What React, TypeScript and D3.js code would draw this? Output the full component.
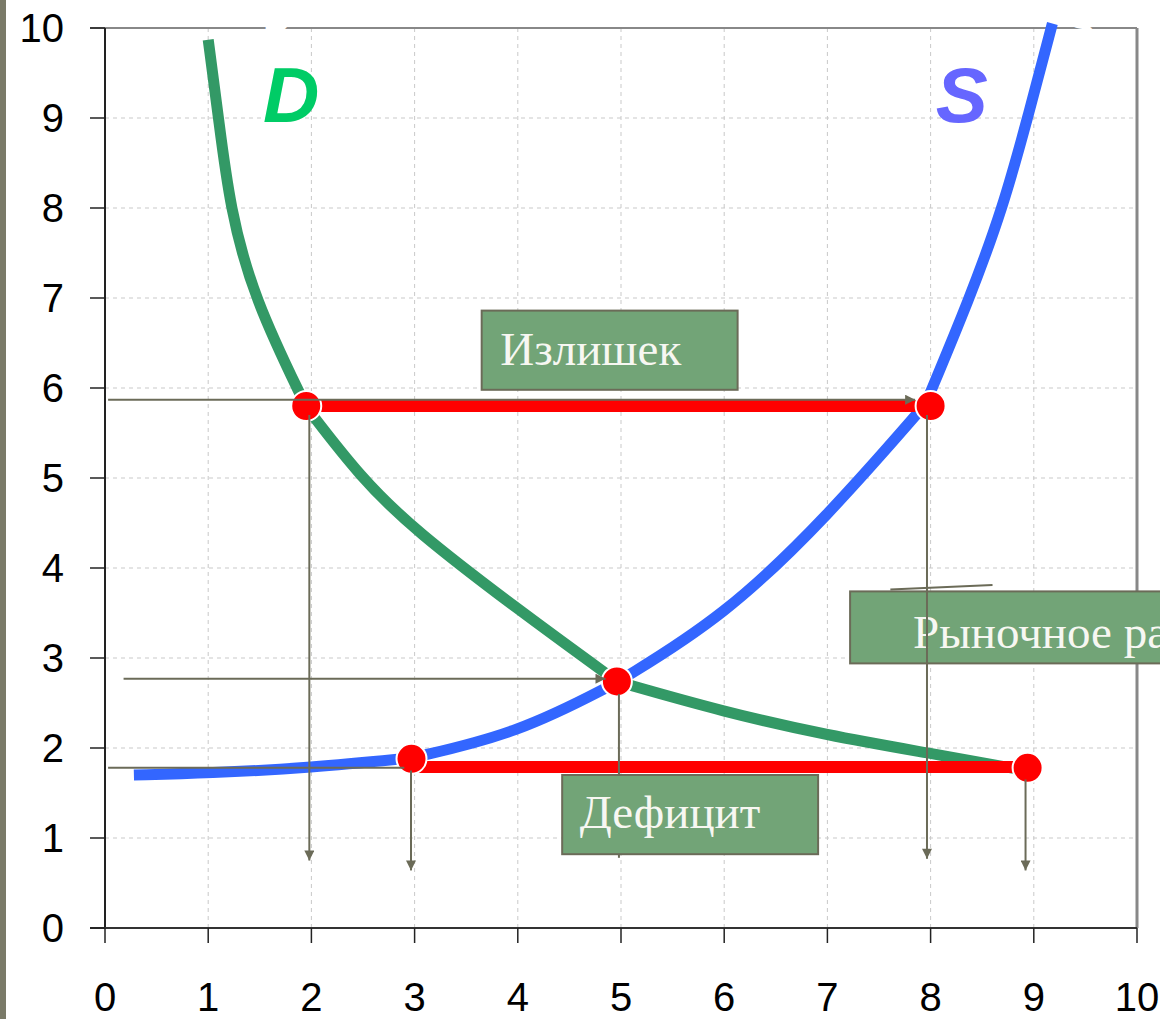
import React from "react";
import * as d3 from "d3";

// axis ticks (both axes 0..10)
const TICKS = [0, 1, 2, 3, 4, 5, 6, 7, 8, 9, 10];

// demand curve D (quantity, price)
const demandQ = [1.0, 1.1, 1.21, 1.44, 1.95, 2.48, 3.0, 4.0, 4.96, 6.0, 7.0, 8.0, 8.82];
const demandP = [9.87, 9.0, 8.0, 7.0, 5.79, 5.0, 4.42, 3.54, 2.74, 2.4, 2.14, 1.94, 1.77];
// points where the drawn curve bends (hidden under the red dots)
const demandKnots = [1.95, 4.96];

// supply curve S
const supplyQ = [0.28, 1, 2, 2.97, 4, 4.96, 6.0, 7.0, 7.95, 8.38, 8.7, 8.94, 9.18];
const supplyP = [1.7, 1.72, 1.78, 1.89, 2.16, 2.73, 3.46, 4.57, 5.82, 7.0, 8.0, 9.0, 10.05];
const supplyKnots = [2.97, 4.96, 7.95];

// red gap segments (surplus, deficit)
const gapFromQ = [1.95, 2.97];
const gapToQ = [8.0, 8.94];
const gapP = [5.8, 1.79];

// red points
const dotQ = [1.95, 8.0, 4.96, 2.97, 8.94];
const dotP = [5.8, 5.8, 2.74, 1.88, 1.78];

// grey guide lines: from (q1,p1) to (q2,p2), arrow = arrowhead at the end
const guides = [
  { q1: 0.03, p1: 5.87, q2: 7.85, p2: 5.87, arrow: true },
  { q1: 1.98, p1: 5.7, q2: 1.98, p2: 0.75, arrow: true },
  { q1: 2.965, p1: 1.75, q2: 2.965, p2: 0.64, arrow: true },
  { q1: 0.18, p1: 2.77, q2: 4.85, p2: 2.77, arrow: true },
  { q1: 4.98, p1: 2.6, q2: 4.98, p2: 0.78, arrow: false },
  { q1: 0.03, p1: 1.78, q2: 2.9, p2: 1.78, arrow: false },
  { q1: 7.965, p1: 5.7, q2: 7.965, p2: 0.77, arrow: true },
  { q1: 8.92, p1: 1.65, q2: 8.92, p2: 0.64, arrow: true },
  { q1: 7.61, p1: 3.76, q2: 8.6, p2: 3.81, arrow: false },
];

// text boxes
const boxTexts = ["Излишек", "Дефицит", "Рыночное равновесие"];
const boxQ1 = [3.65, 4.43, 7.22];
const boxQ2 = [6.13, 6.91, 10.6];
const boxPTop = [6.86, 1.7, 3.74];
const boxPBottom = [5.98, 0.82, 2.94];
const boxTextQ = [3.83, 4.6, 7.83];
const boxTextP = [6.26, 1.11, 3.11];

const W = 1160;
const H = 1019;

type Pt = [number, number];

// cut a curve into pieces at its knot points
function splitAt(qs: number[], ps: number[], knots: number[]): Pt[][] {
  const out: Pt[][] = [];
  let cur: Pt[] = [];
  qs.forEach((q, i) => {
    cur.push([q, ps[i]]);
    if (knots.includes(q)) {
      out.push(cur);
      cur = [[q, ps[i]]];
    }
  });
  if (cur.length > 1) out.push(cur);
  return out;
}

export default function App() {
  const x = d3.scaleLinear().domain([0, 10]).range([105, 1137]);
  const y = d3.scaleLinear().domain([0, 10]).range([928, 28]);

  const line = d3
    .line<Pt>()
    .x((d) => x(d[0]))
    .y((d) => y(d[1]))
    .curve(d3.curveBasis);

  const curvePath = (qs: number[], ps: number[], knots: number[]) =>
    splitAt(qs, ps, knots)
      .map((seg) => line(seg) ?? "")
      .join("");

  const guideColor = "#6b6b58";
  const boxFill = "#72a477";

  const renderBox = (i: number) => (
    <g key={"box" + i}>
      <rect
        x={x(boxQ1[i])}
        y={y(boxPTop[i])}
        width={x(boxQ2[i]) - x(boxQ1[i])}
        height={y(boxPBottom[i]) - y(boxPTop[i])}
        fill={boxFill}
        stroke={guideColor}
        strokeWidth={2}
      />
      <text
        x={x(boxTextQ[i])}
        y={y(boxTextP[i])}
        fill="#f7f7f2"
        fontFamily="'Liberation Serif', 'DejaVu Serif', serif"
        fontSize={47}
      >
        {boxTexts[i]}
      </text>
    </g>
  );

  return (
    <svg
      width={W}
      height={H}
      style={{ position: "absolute", left: 0, top: 0, background: "#fff" }}
    >
      <defs>
        <marker
          id="arr"
          viewBox="0 0 10 10"
          refX={10}
          refY={5}
          markerWidth={12}
          markerHeight={10}
          markerUnits="userSpaceOnUse"
          orient="auto"
        >
          <path d="M0,0 L10,5 L0,10 z" fill={guideColor} />
        </marker>
      </defs>

      {/* left page strip */}
      <rect x={0} y={0} width={6} height={H} fill="#7a7a68" />

      {/* grid */}
      <g stroke="#c9c9c9" strokeWidth={1} strokeDasharray="4,4">
        {TICKS.filter((t) => t > 0 && t < 10).map((t) => (
          <line key={"gx" + t} x1={x(t)} x2={x(t)} y1={y(10)} y2={y(0)} />
        ))}
        {TICKS.filter((t) => t > 0 && t < 10).map((t) => (
          <line key={"gy" + t} x1={x(0)} x2={x(10)} y1={y(t)} y2={y(t)} />
        ))}
      </g>

      {/* frame */}
      <line x1={x(0) - 15} x2={x(10)} y1={y(10)} y2={y(10)} stroke="#888" strokeWidth={2} />
      <line x1={x(10)} x2={x(10)} y1={y(10)} y2={y(0)} stroke="#888" strokeWidth={3} />
      <line x1={x(0)} x2={x(0)} y1={y(10)} y2={y(0)} stroke="#222" strokeWidth={2} />
      <line x1={x(0) - 15} x2={x(10)} y1={y(0)} y2={y(0)} stroke="#333" strokeWidth={2} />

      {/* y ticks and labels */}
      {TICKS.map((t) => (
        <g key={"yt" + t}>
          <line x1={x(0) - 15} x2={x(0)} y1={y(t)} y2={y(t)} stroke="#222" strokeWidth={1.5} />
          <text
            x={64}
            y={y(t) + 14}
            textAnchor="end"
            fontFamily="'Liberation Sans', Arial, sans-serif"
            fontSize={40}
            fill="#000"
          >
            {t}
          </text>
        </g>
      ))}

      {/* x ticks and labels */}
      {TICKS.map((t) => (
        <g key={"xt" + t}>
          <line x1={x(t)} x2={x(t)} y1={y(0)} y2={y(0) + 15} stroke="#222" strokeWidth={1.5} />
          <text
            x={x(t)}
            y={1011}
            textAnchor="middle"
            fontFamily="'Liberation Sans', Arial, sans-serif"
            fontSize={40}
            fill="#000"
          >
            {t}
          </text>
        </g>
      ))}

      {/* curves */}
      <path
        d={curvePath(demandQ, demandP, demandKnots)}
        fill="none"
        stroke="#339966"
        strokeWidth={11}
      />
      <path
        d={curvePath(supplyQ, supplyP, supplyKnots)}
        fill="none"
        stroke="#3366ff"
        strokeWidth={11}
      />

      {/* surplus / deficit */}
      {gapP.map((p, i) => (
        <line
          key={"gap" + i}
          x1={x(gapFromQ[i])}
          x2={x(gapToQ[i])}
          y1={y(p)}
          y2={y(p)}
          stroke="#ff0000"
          strokeWidth={12}
        />
      ))}
      {dotQ.map((q, i) => (
        <circle
          key={"dot" + i}
          cx={x(q)}
          cy={y(dotP[i])}
          r={15}
          fill="#ff0000"
          stroke="#fff"
          strokeWidth={2}
        />
      ))}

      {renderBox(2)}

      {/* guide lines */}
      {guides.map((g, i) => (
        <line
          key={"guide" + i}
          x1={x(g.q1)}
          y1={y(g.p1)}
          x2={x(g.q2)}
          y2={y(g.p2)}
          stroke={guideColor}
          strokeWidth={2}
          markerEnd={g.arrow ? "url(#arr)" : undefined}
        />
      ))}

      {renderBox(0)}
      {renderBox(1)}

      {/* curve labels */}
      <text
        x={x(1.53)}
        y={y(8.96)}
        fill="#00cc66"
        fontFamily="'Liberation Sans', Arial, sans-serif"
        fontWeight="bold"
        fontStyle="italic"
        fontSize={78}
      >
        D
      </text>
      <text
        x={x(8.05)}
        y={y(8.96)}
        fill="#6666ff"
        fontFamily="'Liberation Sans', Arial, sans-serif"
        fontWeight="bold"
        fontStyle="italic"
        fontSize={78}
      >
        S
      </text>

      {/* white hidden labels above the frame */}
      <text
        x={x(1.53)}
        y={y(9.86)}
        fill="#fff"
        fontFamily="'Liberation Sans', Arial, sans-serif"
        fontWeight="bold"
        fontSize={40}
      >
        P
      </text>
      <text
        x={x(9.33)}
        y={y(9.86)}
        fill="#fff"
        fontFamily="'Liberation Sans', Arial, sans-serif"
        fontWeight="bold"
        fontSize={40}
      >
        S
      </text>
    </svg>
  );
}
